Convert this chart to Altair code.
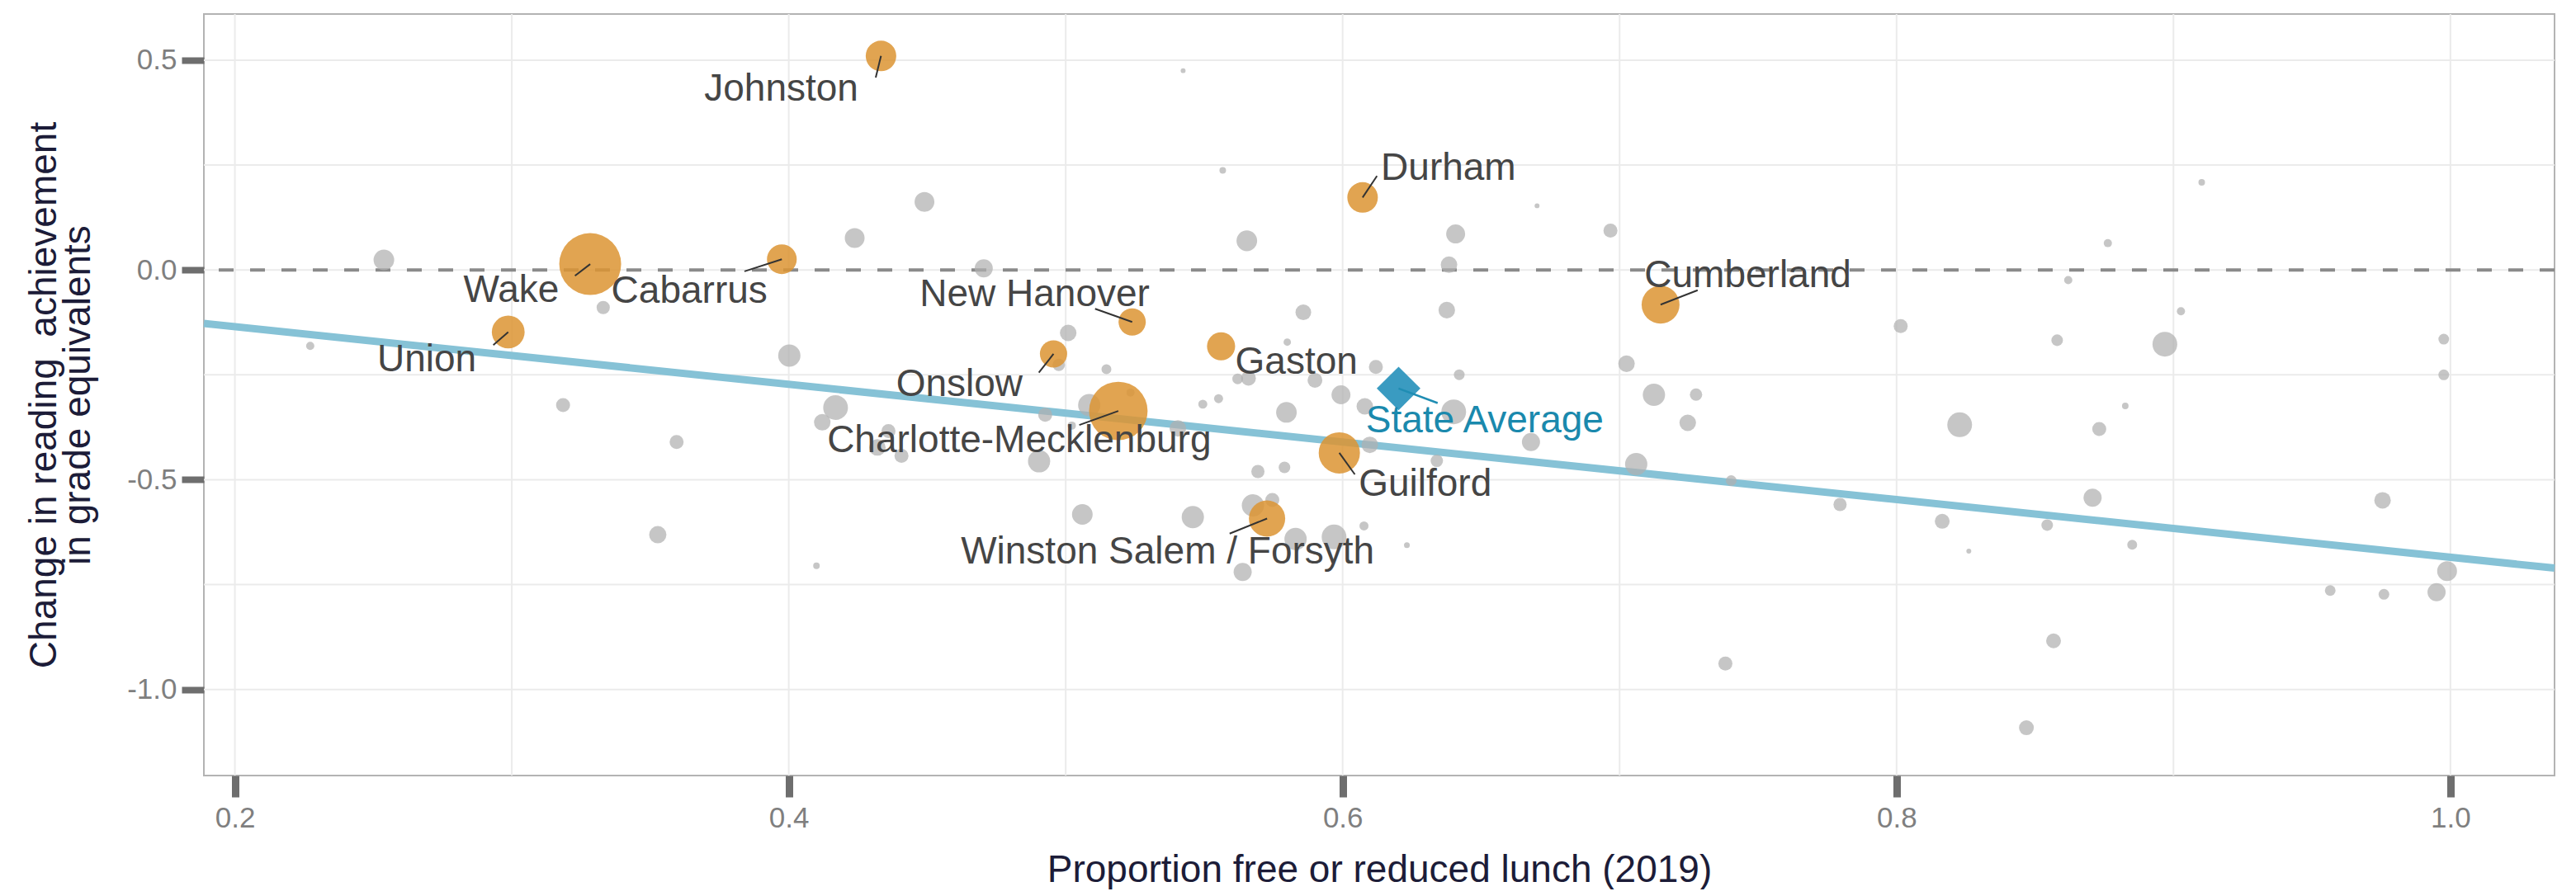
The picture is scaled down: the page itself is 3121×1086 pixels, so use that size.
import altair as alt
import pandas as pd

# ---------------- data ----------------
# gray districts: x = proportion FRL, y = change in grade equivalents, n = enrollment (thousands)
gray_x = [0.2272, 0.2538, 0.3330, 0.3185, 0.3595, 0.3527, 0.4002, 0.4238, 0.4490, 0.4704,
          0.5424, 0.5567, 0.5654, 0.6408, 0.6384, 0.6702, 0.5858, 0.6376, 0.5009, 0.4975,
          0.5147, 0.5800, 0.6120, 0.5621, 0.5660, 0.5900, 0.6421, 0.5994, 0.5552, 0.5495,
          0.5797, 0.6080, 0.6401, 0.4169, 0.4121, 0.4926, 0.5085, 0.5022, 0.5234, 0.4360,
          0.4320, 0.4407, 0.4904, 0.5405, 0.5694, 0.5790, 0.6098, 0.6340, 0.6680, 0.5060,
          0.5459, 0.5676, 0.5746, 0.5830, 0.5969, 0.6077, 0.6232, 0.5639, 0.4100, 0.6967,
          0.7025, 0.7124, 0.7276, 0.7246, 0.7060, 0.7403, 0.7796, 0.7382, 0.8015, 0.8228,
          0.8165, 0.8261, 0.8544, 0.8580, 0.8620, 0.8763, 0.8732, 0.8826, 0.8708, 0.8851,
          0.8567, 0.8469, 0.8969, 0.9027, 0.9102, 0.9755, 0.9566, 0.9760, 0.9950, 0.9988,
          0.9976, 0.9976]
gray_y = [-0.181, 0.024, -0.0896, -0.322, -0.410, -0.631, -0.204, 0.076, 0.162, 0.004,
          0.475, 0.2373, 0.0695, 0.0859, 0.0125, 0.153, -0.1009, -0.0957, -0.150, -0.226,
          -0.2366, -0.172, -0.231, -0.2595, -0.2582, -0.263, -0.2497, -0.2975, -0.3067, -0.3199,
          -0.3395, -0.325, -0.3382, -0.328, -0.363, -0.345, -0.322, -0.371, -0.2923, -0.384,
          -0.423, -0.443, -0.456, -0.3775, -0.4804, -0.4706, -0.4168, -0.455, -0.410, -0.5826,
          -0.589, -0.561, -0.548, -0.641, -0.6364, -0.610, -0.656, -0.7197, -0.705, 0.094,
          -0.2235, -0.2975, -0.2969, -0.3644, -0.4627, -0.502, -0.559, -0.938, -0.134, -0.369,
          -0.599, -0.670, -0.608, -0.1675, -0.024, 0.064, -0.379, -0.324, -0.543, -0.655,
          -0.884, -1.091, -0.177, -0.0985, 0.209, -0.549, -0.764, -0.773, -0.768, -0.718,
          -0.165, -0.250]
gray_n = [2.8, 17.8, 7.3, 8.2, 8.2, 12.5, 20.7, 16.4, 16.4, 13.7,
          1.0, 1.8, 17.8, 15.0, 11.4, 1.0, 10.3, 11.4, 11.4, 6.4,
          4.1, 2.3, 8.2, 4.8, 9.2, 9.2, 4.8, 15.0, 3.4, 3.4,
          17.8, 11.4, 25.6, 25.6, 11.4, 8.2, 20.7, 2.8, 2.8, 8.2,
          11.4, 8.2, 20.7, 11.4, 7.3, 5.6, 11.4, 6.4, 13.7, 17.8,
          20.7, 20.7, 8.2, 20.7, 25.6, 3.4, 1.4, 13.7, 1.8, 8.2,
          11.4, 20.7, 6.4, 11.4, 20.7, 4.8, 7.3, 8.2, 8.2, 25.6,
          9.2, 1.0, 5.6, 5.6, 2.8, 2.8, 8.2, 1.8, 13.7, 4.1,
          9.2, 9.2, 25.6, 2.8, 1.8, 11.4, 4.8, 4.8, 13.7, 16.4,
          4.8, 4.8]

# highlighted (large) districts
big_names = ["Wake", "Charlotte-Mecklenburg", "Guilford", "Winston Salem / Forsyth", "Cumberland",
             "Union", "Johnston", "Durham", "Cabarrus", "Gaston", "New Hanover", "Onslow"]
big_x = [0.3283, 0.5190, 0.5988, 0.5727, 0.7148, 0.2987, 0.4333, 0.6072, 0.3975, 0.5561, 0.5240, 0.4956]
big_y = [0.014, -0.336, -0.436, -0.5925, -0.0826, -0.148, 0.510, 0.1728, 0.0256, -0.182, -0.124, -0.200]
big_n = [160, 143, 71, 55, 60, 45, 39, 39, 37, 33, 31, 31]

# label anchors (data units): text centre x, text baseline y, leader-line end
lab_x = [0.2998, 0.4832, 0.6298, 0.5368, 0.7463, 0.2693, 0.3973, 0.6382, 0.3641, 0.5833, 0.4888, 0.4616]
lab_y = [-0.0757, -0.4345, -0.5388, -0.6999, -0.0413, -0.2418, 0.4035, 0.2139, -0.0786, -0.2477, -0.0865, -0.2999]
seg_x = [0.3228, 0.5049, 0.6044, 0.5592, 0.7282, 0.2933, 0.4314, 0.6124, 0.3840, 0.5561, 0.5106, 0.4903]
seg_y = [-0.0138, -0.3696, -0.4872, -0.6284, -0.0482, -0.1789, 0.4587, 0.2241, -0.0033, -0.182, -0.0924, -0.2448]

# state average
state_x = [0.6202]
state_y = [-0.2825]
state_lab_x = [0.6513]
state_lab_y = [-0.3862]
state_seg_x = [0.6343]
state_seg_y = [-0.3171]

# fitted line end points
fit_x = [0.1888, 1.0376]
fit_y = [-0.1275, -0.7106]

x_ticks = [0.2, 0.4, 0.6, 0.8, 1.0]
y_ticks = [-1.0, -0.5, 0.0, 0.5]
x_grid = [0.2, 0.3, 0.4, 0.5, 0.6, 0.7, 0.8, 0.9, 1.0]
y_grid = [-1.0, -0.75, -0.5, -0.25, 0.0, 0.25, 0.5]

# ---------------- tables ----------------
gray_df = pd.DataFrame({"x": gray_x, "y": gray_y, "n": gray_n})
big_df = pd.DataFrame({"name": big_names, "x": big_x, "y": big_y, "n": big_n,
                       "lx": lab_x, "ly": lab_y, "sx": seg_x, "sy": seg_y})
seg_df = big_df[big_df["name"] != "Gaston"]
state_df = pd.DataFrame({"name": ["State Average"], "x": state_x, "y": state_y,
                         "lx": state_lab_x, "ly": state_lab_y, "sx": state_seg_x, "sy": state_seg_y})
fit_df = pd.DataFrame({"x": fit_x, "y": fit_y})
xg_df = pd.DataFrame({"x": x_grid})
yg_df = pd.DataFrame({"y": y_grid})
zero_df = pd.DataFrame({"y": [0.0]})

FONT = "Liberation Sans, Arial, sans-serif"
xs = alt.Scale(domain=[0.1888, 1.0376], nice=False, zero=False)
ys = alt.Scale(domain=[-1.205, 0.610], nice=False, zero=False)
ss = alt.Scale(domain=[0, 160], range=[0, 5625], zero=True)

LABEL_EXPR = "(datum.value < 0 ? '-' : '') + format(abs(datum.value), '.1f')"

x_axis = alt.Axis(values=x_ticks, labelExpr=LABEL_EXPR, grid=False, domain=False,
                  labelFont=FONT, labelFontSize=35, labelColor="#7f7f7f", labelPadding=8,
                  tickColor="#6e6e6e", tickWidth=9, tickSize=26,
                  title="Proportion free or reduced lunch (2019)", titleFont=FONT,
                  titleFontSize=46, titleFontWeight="normal", titleColor="#1c1c38",
                  titleBaseline="alphabetic", titleY=128)
y_axis = alt.Axis(values=y_ticks, labelExpr=LABEL_EXPR, grid=False, domain=False,
                  labelFont=FONT, labelFontSize=35, labelColor="#7f7f7f", labelPadding=6,
                  tickColor="#6e6e6e", tickWidth=8, tickSize=27,
                  title=["Change in reading\u00a0 achievement", "in grade equivalents"],
                  titleFont=FONT, titleFontSize=46, titleFontWeight="normal",
                  titleColor="#1c1c38", titleLineHeight=41, titleBaseline="alphabetic",
                  titleX=-180)


def X(field):
    return alt.X(field, scale=xs, axis=x_axis)


def Y(field):
    return alt.Y(field, scale=ys, axis=y_axis)


xgrid = alt.Chart(xg_df).mark_rule(color="#ebebeb", strokeWidth=2).encode(x=X("x:Q"))
ygrid = alt.Chart(yg_df).mark_rule(color="#ebebeb", strokeWidth=2).encode(y=Y("y:Q"))
zero = alt.Chart(zero_df).mark_rule(color="#8a8a8a", strokeWidth=4, strokeDash=[18, 20]).encode(
    y=Y("y:Q"))

fit = alt.Chart(fit_df).mark_line(color="#86c2d6", strokeWidth=9).encode(x=X("x:Q"), y=Y("y:Q"))

gray = alt.Chart(gray_df).mark_circle(color="#b0b0b0", opacity=0.72).encode(
    x=X("x:Q"), y=Y("y:Q"), size=alt.Size("n:Q", scale=ss, legend=None))

big = alt.Chart(big_df).mark_circle(color="#dc9433", opacity=0.85).encode(
    x=X("x:Q"), y=Y("y:Q"), size=alt.Size("n:Q", scale=ss, legend=None))

state = alt.Chart(state_df).mark_point(shape="diamond", filled=True, size=2800,
                                        color="#3a9bc1", opacity=1).encode(x=X("x:Q"), y=Y("y:Q"))

segs = alt.Chart(seg_df).mark_rule(color="#333333", strokeWidth=2).encode(
    x=X("x:Q"), y=Y("y:Q"), x2="sx:Q", y2="sy:Q")
state_seg = alt.Chart(state_df).mark_rule(color="#1f8db3", strokeWidth=2.5).encode(
    x=X("x:Q"), y=Y("y:Q"), x2="sx:Q", y2="sy:Q")

labels = alt.Chart(big_df).mark_text(font=FONT, fontSize=46, color="#454545",
                                     align="center", baseline="alphabetic").encode(
    x=X("lx:Q"), y=Y("ly:Q"), text="name:N")
state_label = alt.Chart(state_df).mark_text(font=FONT, fontSize=46, color="#1a89ad",
                                            align="center", baseline="alphabetic").encode(
    x=X("lx:Q"), y=Y("ly:Q"), text="name:N")

chart = alt.layer(
    xgrid, ygrid, zero, fit, gray, big, state, segs, state_seg, labels, state_label
).properties(
    width=2848, height=923,
    padding={"left": 239, "top": 9, "right": 10, "bottom": 138},
    autosize=alt.AutoSizeParams(type="none"),
    background="white",
).configure_view(
    stroke="#b3b3b3", strokeWidth=2
)

chart.save("out.html", embed_options={"renderer": "svg", "actions": False})
